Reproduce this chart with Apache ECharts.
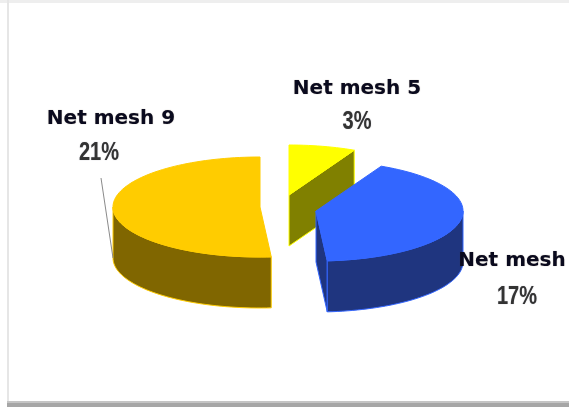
<!DOCTYPE html>
<html>
<head>
<meta charset="utf-8">
<style>html,body{margin:0;padding:0;background:#fff}#c{width:569px;height:408px}</style>
<script src="https://cdn.jsdelivr.net/npm/echarts@6/dist/echarts.min.js"></script>
</head>
<body>
<div id="c"></div>
<script>
const categories = ['Net mesh 5', 'Net mesh', 'Net mesh 9'];
const values = [3, 17, 21];

const topColors = ['#FFFF00', '#3366FF', '#FFCC00'];
const wallColors = ['#808000', '#1F357F', '#806600'];
const centers = [[289, 195], [316, 211], [260, 207]];
const RX = 147, RY = 50, DEPTH = 51;
const labelPos = [[357, 89, 357, 122], [512, 261, 517, 297], [111, 119, 99, 153]];
const nameFont = 'bold 20px "DejaVu Sans", Verdana, sans-serif';
const pctFont = 'bold 20px "Liberation Sans", Arial, sans-serif';

const total = values.reduce((a, b) => a + b, 0);

function pt(c, deg, dy) {
  const r = deg * Math.PI / 180;
  return [c[0] + RX * Math.sin(r), c[1] - RY * Math.cos(r) + (dy || 0)];
}
function arc(c, a, b, dy) {
  const out = [];
  const n = Math.max(1, Math.ceil(Math.abs(b - a) / 2));
  for (let i = 0; i <= n; i++) out.push(pt(c, a + (b - a) * i / n, dy));
  return out;
}
function poly(points, fill, stroke) {
  return { type: 'polygon', shape: { points }, style: { fill, stroke, lineWidth: 1 } };
}

function renderItem(params, api) {
  const i = params.dataIndex;
  const before = values.slice(0, i).reduce((a, b) => a + b, 0);
  const a0 = before / total * 360;
  const a1 = a0 + api.value(0) / total * 360;
  const c = centers[i], top = topColors[i], wall = wallColors[i];
  const kids = [];
  const wallOf = (deg) => {
    const p = pt(c, deg), q = pt(c, deg, DEPTH);
    kids.push(poly([c, p, q, [c[0], c[1] + DEPTH]], wall, top));
  };
  if (Math.sin(a1 * Math.PI / 180) > 0.001) wallOf(a1);
  if (Math.sin(a0 * Math.PI / 180) < -0.001) wallOf(a0);
  const fa = Math.max(a0, 90), fb = Math.min(a1, 270);
  if (fb > fa) {
    kids.push(poly(arc(c, fa, fb, 0).concat(arc(c, fb, fa, DEPTH)), wall, top));
  }
  kids.push(poly([c].concat(arc(c, a0, a1, 0)), top, top));
  return { type: 'group', children: kids };
}

function labelItems() {
  const out = [];
  categories.forEach((name, i) => {
    const p = labelPos[i];
    out.push({ type: 'text', z: 20, x: p[0], y: p[1], style: { text: name, x: 0, y: 0, font: nameFont, fill: '#0A0A1E', align: 'center', verticalAlign: 'middle', textShadowColor: 'rgba(90,70,40,0.5)', textShadowBlur: 1 } });
    out.push({ type: 'text', z: 20, x: p[2], y: p[3], scaleY: 1.25, style: { text: values[i] + '%', x: 0, y: 0, font: pctFont, fill: '#333333', align: 'center', verticalAlign: 'middle', textShadowColor: 'rgba(90,90,110,0.5)', textShadowBlur: 1 } });
  });
  return out;
}

const chart = echarts.init(document.getElementById('c'), null, { renderer: 'canvas' });
chart.setOption({
  animation: false,
  backgroundColor: '#ffffff',
  graphic: [
    { type: 'rect', z: 1, shape: { x: 0, y: 0, width: 569, height: 3 }, style: { fill: '#EEEEEE' } },
    { type: 'rect', z: 1, shape: { x: 7, y: 0, width: 2, height: 403 }, style: { fill: '#E6E6E6' } },
    { type: 'rect', z: 1, shape: { x: 7, y: 401, width: 562, height: 2 }, style: { fill: '#C4C4C4' } },
    { type: 'rect', z: 1, shape: { x: 7, y: 403, width: 562, height: 4 }, style: { fill: '#A6A6A6' } },
    { type: 'line', z: 20, shape: { x1: 101, y1: 178, x2: 113, y2: 258 }, style: { stroke: '#8A8A8A', lineWidth: 1 } }
  ].concat(labelItems()),
  series: [{
    type: 'custom',
    coordinateSystem: 'none',
    silent: true,
    z: 5,
    data: values.map(v => [v]),
    renderItem
  }]
});
</script>
</body>
</html>
